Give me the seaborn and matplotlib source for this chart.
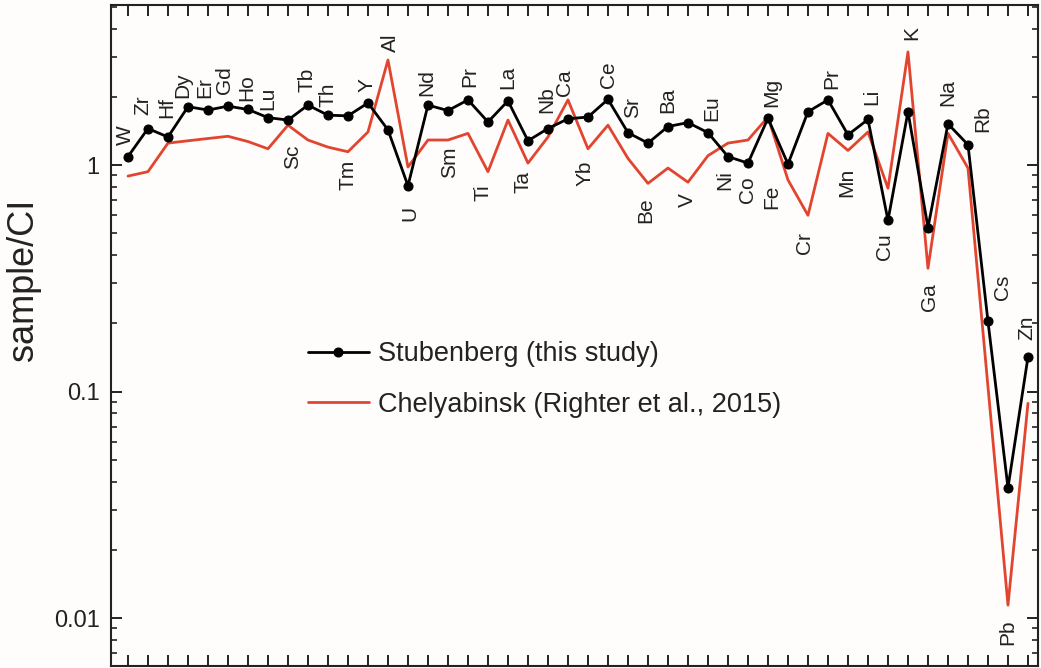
import numpy as np
import pandas as pd
import seaborn as sns
import matplotlib.pyplot as plt
from matplotlib.ticker import LogLocator, NullFormatter, FixedLocator

# elements in plotting order (x categories)
elements = ["W", "Zr", "Hf", "Dy", "Er", "Gd", "Ho", "Lu", "Sc", "Tb", "Th", "Tm", "Y", "Al",
            "U", "Nd", "Sm", "Pr", "Ti", "La", "Ta", "Nb", "Ca", "Yb", "Ce",
            "Sr", "Be", "Ba", "V", "Eu",
            "Ni", "Co", "Fe", "Mg", "Cr", "Pr", "Mn", "Li", "Cu", "K",
            "Ga", "Na", "Rb", "Cs", "Pb", "Zn"]

# sample / CI chondrite
stubenberg = [1.09, 1.45, 1.33, 1.81, 1.75, 1.82, 1.76, 1.62, 1.58, 1.84, 1.66, 1.65, 1.88, 1.43,
              0.81, 1.84, 1.74, 1.94, 1.55, 1.92, 1.28, 1.45, 1.60, 1.63, 1.95,
              1.39, 1.25, 1.48, 1.54, 1.39,
              1.09, 1.02, 1.61, 1.01, 1.72, 1.94, 1.36, 1.59, 0.57, 1.72,
              0.53, 1.52, 1.23, 0.204, 0.0376, 0.142]

chelyabinsk = [0.894, 0.935, 1.25, 1.28, 1.31, 1.34, 1.27, 1.18, 1.50, 1.29, 1.20, 1.145, 1.40, 2.91,
               0.98, 1.29, 1.29, 1.38, 0.935, 1.58, 1.02, 1.33, 1.94, 1.18, 1.50,
               1.07, 0.83, 0.97, 0.84, 1.10,
               1.25, 1.29, 1.63, 0.86, 0.60, 1.38, 1.16, 1.40, 0.79, 3.16,
               0.35, 1.38, 0.97, 0.105, 0.0114, 0.0887]

# where each element name is written (x in point index, y in data units)
label_x = [-0.15, 0.75, 1.95, 2.75, 3.85, 4.85, 5.95, 7.0, 8.25, 8.95, 10.0, 11.0, 11.95, 13.1,
           14.1, 14.95, 16.1, 17.1, 17.75, 19.0, 19.75, 20.95, 21.85, 22.85, 24.05,
           25.25, 25.9, 27.0, 27.95, 29.2,
           29.85, 31.0, 32.2, 32.2, 33.85, 35.2, 35.95, 37.2, 37.85, 39.2,
           40.1, 41.0, 42.75, 43.75, 44.0, 44.95]
label_y = [1.36, 1.84, 1.79, 2.26, 2.19, 2.37, 2.19, 1.98, 1.085, 2.37, 2.04, 0.903, 2.26, 3.46,
           0.614, 2.32, 1.03, 2.45, 0.752, 2.45, 0.841, 1.94, 2.30, 0.922, 2.50,
           1.80, 0.633, 1.94, 0.70, 1.79,
           0.859, 0.776, 0.722, 2.10, 0.453, 2.42, 0.841, 2.0, 0.435, 3.83,
           0.261, 2.08, 1.61, 0.289, 0.00867, 0.191]

df = pd.DataFrame({
    "idx": np.arange(len(elements)),
    "element": elements,
    "Stubenberg": stubenberg,
    "Chelyabinsk": chelyabinsk,
})

sns.set_theme(style="ticks")
plt.rcParams["font.family"] = ["Liberation Sans", "DejaVu Sans"]

bg = "#fffdfb"
red = "#e2452f"
ink = "#222222"

fig = plt.figure(figsize=(10.41, 6.68), dpi=100, facecolor=bg)
ax = fig.add_axes([0.1066, 0.003, 0.8905, 0.9895])
ax.set_facecolor(bg)

sns.lineplot(data=df, x="idx", y="Chelyabinsk", color=red, linewidth=2.0,
             ax=ax, label="Chelyabinsk (Righter et al., 2015)", zorder=2)
sns.lineplot(data=df, x="idx", y="Stubenberg", color="black", linewidth=2.0,
             marker="o", markersize=6.5, markeredgecolor="black",
             ax=ax, label="Stubenberg (this study)", zorder=3)

ax.set_yscale("log")
ax.set_ylim(0.00614, 5.09)
ax.set_xlim(-0.85, 45.5)

# element names
for name, lx, ly in zip(elements, label_x, label_y):
    ax.text(lx, ly, name, rotation=90, ha="center", va="center",
            fontsize=15, color=ink)

# axes styling
ax.xaxis.set_major_locator(FixedLocator(df["idx"].tolist()))
ax.set_xticklabels([])
ax.set_xlabel("")
ax.yaxis.set_minor_locator(LogLocator(base=10, subs=np.arange(2, 10), numticks=10))
ax.yaxis.set_minor_formatter(NullFormatter())
ax.set_yticks([0.01, 0.1, 1])
ax.set_yticklabels(["0.01", "0.1", "1"])
ax.tick_params(axis="x", which="major", direction="in", length=8, width=1.4,
               top=True, bottom=True, color=ink)
ax.tick_params(axis="y", which="major", direction="in", length=8, width=1.4,
               left=True, right=True, labelsize=17, labelcolor=ink, color=ink, pad=8)
ax.tick_params(axis="y", which="minor", direction="in", length=4.5, width=1.2,
               left=True, right=True, color=ink)
for s in ax.spines.values():
    s.set_visible(True)
    s.set_linewidth(1.5)
    s.set_color(ink)

ax.set_ylabel("sample/CI", fontsize=26, color=ink)
ax.yaxis.set_label_coords(-0.075, 0.584)

handles, labels = ax.get_legend_handles_labels()
order = [1, 0]
ax.legend([handles[i] for i in order], [labels[i] for i in order],
          loc="upper left", bbox_to_anchor=(0.2125, 0.491), frameon=False,
          fontsize=19.5, handlelength=2.25, handletextpad=0.35,
          labelspacing=0.9, borderpad=0, borderaxespad=0, labelcolor=ink)

fig.savefig("out.png", dpi=100, facecolor=bg)
